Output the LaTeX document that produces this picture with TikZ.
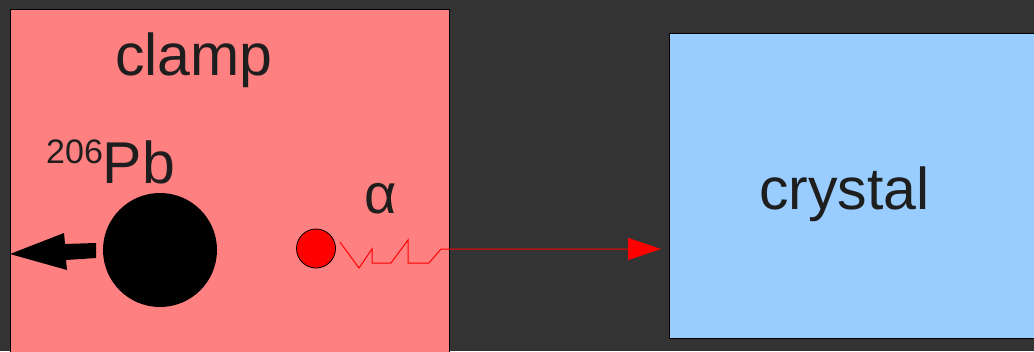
\documentclass[tikz,border=0pt]{standalone}
\usepackage{fontspec}
\setmainfont{Liberation Sans}
\usetikzlibrary{arrows.meta}
\definecolor{bg}{HTML}{333333}
\definecolor{clampc}{HTML}{FF8080}
\definecolor{crystalc}{HTML}{99CCFF}
\definecolor{txt}{HTML}{1E1E1E}
\tikzset{
  lbl/.style={inner sep=0pt, anchor=base west, text=txt, font=\fontsize{59}{62}\selectfont},
  boxstyle/.style={draw=black, line width=1pt, inner sep=0pt},
  ray/.style={draw=red, line width=1pt, -{Triangle[length=33pt,width=22pt]}}
}
\begin{document}
\begin{tikzpicture}[x=1pt,y=-1pt]
\useasboundingbox (0,0) rectangle (1034,351);
\fill[bg] (0,0) rectangle (1034,351);
\begin{scope}
\clip (0,0) rectangle (1034,351);
\node[boxstyle, fill=clampc, minimum width=439pt, minimum height=360pt, anchor=north west] (clamp) at (10,9) {};
\node[boxstyle, fill=crystalc, minimum width=380pt, minimum height=305pt, anchor=north west] (crystal) at (669,33) {};
\end{scope}
\node[lbl] (clamplbl) at (115,75) {clamp};
\node[lbl] (crystallbl) at (759,209) {crystal};
\node[lbl] (pblbl) at (46,183) {\raisebox{20pt}{\fontsize{34}{34}\selectfont 206}Pb};
\node[lbl, font=\fontsize{56}{60}\selectfont] (alphalbl) at (364,213) {α};
\node[circle, fill=black, minimum size=114pt, inner sep=0pt] (pb) at (160,250) {};
\node[circle, fill=red, draw=black, line width=0.8pt, minimum size=39pt, inner sep=0pt] (alpha) at (316,248.5) {};
\coordinate (hit) at (661,249);
\fill[black] (10,254) -- (64,233) -- (65,244) -- (96,243) -- (96,258) -- (66,260) -- (67,270) -- cycle;
\draw[ray] (alpha.east) ++(4,-6.5) -- (359,268) -- (372,249) -- (372,263) -- (391,263) -- (408,240) -- (408,263) -- (429,263) -- (441,249) -- (hit);
\end{tikzpicture}
\end{document}
